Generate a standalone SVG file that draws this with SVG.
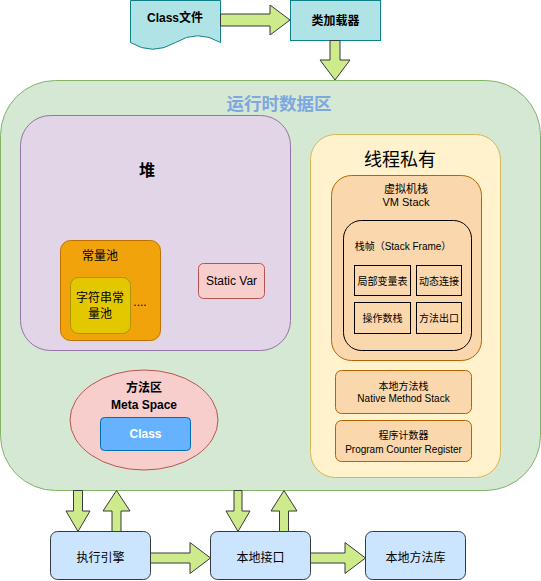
<svg xmlns="http://www.w3.org/2000/svg" width="541" height="581" viewBox="0 0 541 581">
<style>
text{font-family:"Liberation Sans","Noto Sans CJK SC",sans-serif;text-anchor:middle;dominant-baseline:central;fill:#000}
.arrow{fill:#cdeb8b;stroke:#36393d;stroke-width:1}
.b{font-weight:bold}
.s12{font-size:12px}
.s10{font-size:10px}
.s11{font-size:11px}
.orange{fill:#fad7ac;stroke:#b46504;stroke-width:1}
.cell{fill:#fad7ac;stroke:#000;stroke-width:1}
.blue{fill:#cce5ff;stroke:#36393d;stroke-width:1}
</style>
<g id="runtime">
<rect x="0.5" y="80.5" width="540" height="410" rx="55" ry="55" fill="#d5e8d4" stroke="#82b366"/>
<text x="279" y="104" class="b" style="font-size:17.5px;fill:#7ea6e0">运行时数据区</text>
</g>
<g id="heap">
<rect x="20.5" y="115.5" width="270" height="235" rx="30" ry="30" fill="#e1d5e7" stroke="#9673a6"/>
<text x="147" y="170" class="b" style="font-size:16px">堆</text>
</g>
<g id="constpool">
<rect x="60.5" y="240.5" width="100" height="100" rx="10" ry="10" fill="#f0a30a" stroke="#bd7000"/>
<text x="100" y="256" class="s12">常量池</text>
<text x="140" y="302" class="s12">....</text>
</g>
<g id="stringpool">
<rect x="70.5" y="277.5" width="60" height="56" rx="8" ry="8" fill="#e3c800" stroke="#b09500"/>
<text x="100" y="298" class="s12">字符串常</text>
<text x="100" y="314" class="s12">量池</text>
</g>
<g id="staticvar">
<rect x="198.5" y="263.5" width="66" height="35" rx="5" ry="5" fill="#f8cecc" stroke="#b85450"/>
<text x="231.5" y="281" class="s12">Static Var</text>
</g>
<g id="methodarea">
<ellipse cx="144" cy="420" rx="74" ry="50" fill="#f8cecc" stroke="#b85450"/>
<text x="144" y="388" class="b s12">方法区</text>
<text x="144" y="405" class="b s12">Meta Space</text>
</g>
<g id="classbox">
<rect x="100.5" y="417.5" width="90" height="33" rx="4" ry="4" fill="#66b2ff" stroke="#006eaf"/>
<text x="145.5" y="434" class="b s12" style="fill:#fff">Class</text>
</g>
<g id="threadprivate">
<rect x="310.5" y="134.5" width="190" height="343" rx="25" ry="25" fill="#fff2cc" stroke="#d6b656"/>
<text x="400" y="160" style="font-size:18px">线程私有</text>
</g>
<g id="vmstack">
<rect x="331.5" y="175.5" width="150" height="185" rx="20" ry="20" class="orange"/>
<text x="406" y="189" class="s11">虚拟机栈</text>
<text x="406" y="202" class="s11">VM Stack</text>
</g>
<g id="stackframe">
<rect x="343.5" y="220.5" width="128" height="130" rx="18" ry="18" class="cell"/>
<text x="403" y="246" class="s10">栈帧（Stack Frame）</text>
</g>
<g id="localvars">
<rect x="354.5" y="265.5" width="56" height="30" class="cell"/>
<text x="382.5" y="281" class="s10">局部变量表</text>
</g>
<g id="dynlink">
<rect x="416.5" y="265.5" width="45" height="30" class="cell"/>
<text x="439" y="281" class="s10">动态连接</text>
</g>
<g id="operandstack">
<rect x="354.5" y="302.5" width="56" height="31" class="cell"/>
<text x="382.5" y="318" class="s10">操作数栈</text>
</g>
<g id="methodexit">
<rect x="416.5" y="302.5" width="45" height="31" class="cell"/>
<text x="439" y="318" class="s10">方法出口</text>
</g>
<g id="nativestack">
<rect x="335.5" y="370.5" width="136" height="43" rx="6" ry="6" class="orange"/>
<text x="403.5" y="386" class="s10">本地方法栈</text>
<text x="403.5" y="398" class="s10">Native Method Stack</text>
</g>
<g id="pcregister">
<rect x="335.5" y="420.5" width="136" height="41" rx="6" ry="6" class="orange"/>
<text x="403.5" y="435" class="s10">程序计数器</text>
<text x="403.5" y="449" class="s10">Program Counter Register</text>
</g>
<g id="classfile">
<path d="M130.5,0.5 H220.5 V42.5 Q197.5,29 175.5,42.5 Q152.5,56 130.5,42.5 Z" fill="#b0e3e6" stroke="#0e8088"/>
<text x="175" y="18" class="b s12">Class文件</text>
</g>
<g id="classloader">
<rect x="290.5" y="0.5" width="90" height="40" fill="#b0e3e6" stroke="#0e8088"/>
<text x="335.5" y="21" class="b s12">类加载器</text>
</g>
<g id="engine">
<rect x="50.5" y="531.5" width="100" height="48" rx="7" ry="7" class="blue"/>
<text x="100.5" y="558" class="s12">执行引擎</text>
</g>
<g id="nativeinterface">
<rect x="210.5" y="531.5" width="100" height="48" rx="7" ry="7" class="blue"/>
<text x="260.5" y="558" class="s12">本地接口</text>
</g>
<g id="nativelib">
<rect x="365.5" y="531.5" width="100" height="48" rx="7" ry="7" class="blue"/>
<text x="415.5" y="558" class="s12">本地方法库</text>
</g>
<g id="connectors">
<polygon class="arrow" points="220.5,14 270,14 270,5 290,20 270,35 270,26 220.5,26"/>
<polygon class="arrow" points="330,40.5 330,60 320,60 335,80 350,60 340,60 340,40.5"/>
<polygon class="arrow" points="73.5,490.5 73.5,511 66,511 78,531.5 90,511 82.5,511 82.5,490.5"/>
<polygon class="arrow" points="112,531.5 112,511 103,511 116.5,490.5 130,511 121,511 121,531.5"/>
<polygon class="arrow" points="234,490.5 234,511 226,511 238,531.5 250,511 242,511 242,490.5"/>
<polygon class="arrow" points="279.5,531.5 279.5,511 271,511 284,490.5 297,511 288.5,511 288.5,531.5"/>
<polygon class="arrow" points="150.5,553 190,553 190,542.5 210.5,558 190,573.5 190,563 150.5,563"/>
<polygon class="arrow" points="310.5,553 345,553 345,542.5 365.5,558 345,573.5 345,563 310.5,563"/>
</g>
</svg>
